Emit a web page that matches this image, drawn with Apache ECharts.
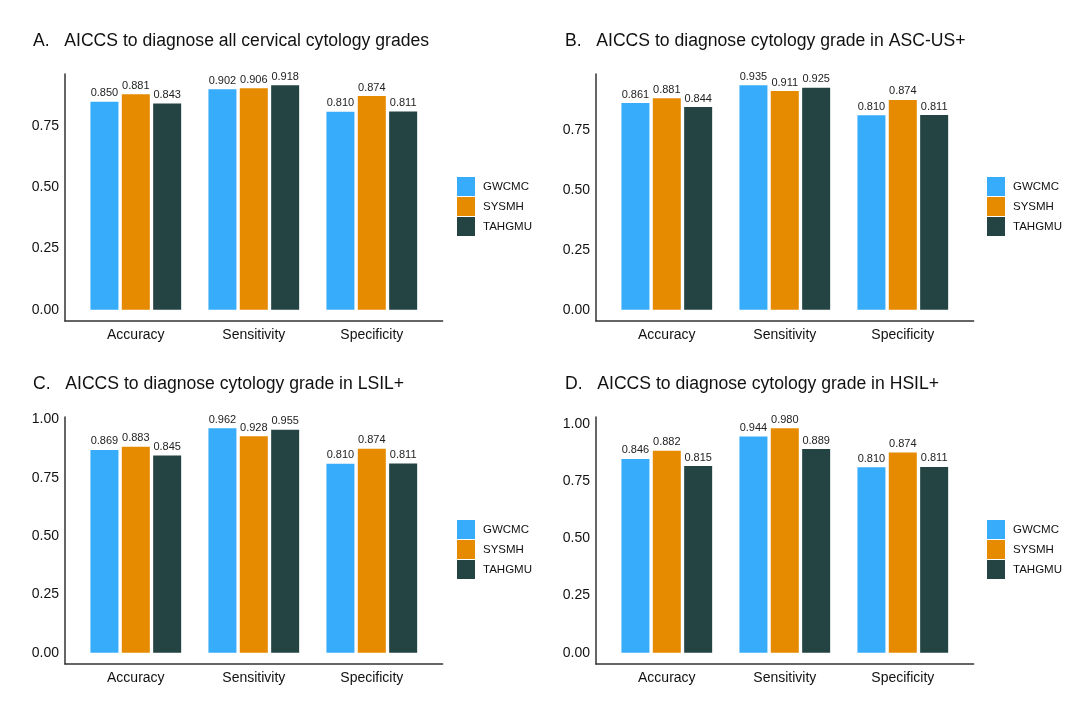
<!DOCTYPE html>
<html>
<head>
<meta charset="utf-8">
<script src="https://cdn.jsdelivr.net/npm/echarts@6/dist/echarts.min.js"></script>
<style>
  html, body { margin: 0; padding: 0; background: #fff; }
  #chart { width: 1080px; height: 717px; }
</style>
</head>
<body>
<div id="chart"></div>
<script>
// metrics on x, one bar per hospital
const categories = ['Accuracy', 'Sensitivity', 'Specificity']
const hospitals = ['GWCMC', 'SYSMH', 'TAHGMU']
const colors = ['#37acfb', '#e68a00', '#244343']

const titles = [
  'A.   AICCS to diagnose all cervical cytology grades',
  'B.   AICCS to diagnose cytology grade in ASC-US+',
  'C.   AICCS to diagnose cytology grade in LSIL+',
  'D.   AICCS to diagnose cytology grade in HSIL+',
]

// values per panel, [GWCMC, SYSMH, TAHGMU]
const panelA = [[0.850, 0.902, 0.810], [0.881, 0.906, 0.874], [0.843, 0.918, 0.811]]
const panelB = [[0.861, 0.935, 0.810], [0.881, 0.911, 0.874], [0.844, 0.925, 0.811]]
const panelC = [[0.869, 0.962, 0.810], [0.883, 0.928, 0.874], [0.845, 0.955, 0.811]]
const panelD = [[0.846, 0.944, 0.810], [0.882, 0.980, 0.874], [0.815, 0.889, 0.811]]

const ticksTop = [0, 0.25, 0.5, 0.75]
const ticksBottom = [0, 0.25, 0.5, 0.75, 1.0]

const panels = [panelA, panelB, panelC, panelD]
const tickSets = [ticksTop, ticksTop, ticksBottom, ticksBottom]

const font = "'Liberation Sans', Arial, sans-serif"
const unit = 118 // px per category
const layout = [
  { left: 65, top: 74, titleLeft: 33, titleTop: 32, legendLeft: 457, legendTop: 177 },
  { left: 596, top: 74, titleLeft: 565, titleTop: 32, legendLeft: 987, legendTop: 177 },
  { left: 65, top: 417, titleLeft: 33, titleTop: 375, legendLeft: 457, legendTop: 520 },
  { left: 596, top: 417, titleLeft: 565, titleTop: 375, legendLeft: 987, legendTop: 520 },
]
const plotH = 247

const chart = echarts.init(document.getElementById('chart'), null, { renderer: 'canvas' })

const title = [], grid = [], xAxis = [], yAxis = [], legend = [], series = []

panels.forEach((p, i) => {
  const L = layout[i]
  let top = 0
  p.forEach(arr => arr.forEach(v => { if (v > top) top = v }))
  // ggplot-like 5% expansion
  const yMin = -0.05 * top
  const yMax = 1.05 * top

  title.push({
    text: titles[i], left: L.titleLeft, top: L.titleTop, padding: 0,
    textStyle: { fontFamily: font, fontSize: 17.6, fontWeight: 'normal', color: '#111' },
  })

  // frame grid: axis lines + y labels
  grid.push({ left: L.left, top: L.top, width: unit * 3.2, height: plotH })
  // bar grid
  grid.push({ left: L.left + unit * 0.1, top: L.top, width: unit * 3, height: plotH })

  const g0 = i * 2, g1 = i * 2 + 1
  xAxis.push({
    type: 'value', gridIndex: g0, min: 0, max: 1,
    axisLine: { show: true, onZero: false, lineStyle: { color: '#333', width: 1.5 } },
    axisTick: { show: false }, axisLabel: { show: false }, splitLine: { show: false },
  })
  yAxis.push({
    type: 'value', gridIndex: g0, min: yMin, max: yMax,
    axisLine: { show: true, onZero: false, lineStyle: { color: '#333', width: 1.5 } },
    axisTick: { show: false },
    axisLabel: {
      show: true, customValues: tickSets[i], margin: 6,
      color: '#111', fontSize: 14, fontFamily: font,
      formatter: v => v.toFixed(2),
    },
    splitLine: { show: false },
  })
  xAxis.push({
    type: 'category', gridIndex: g1, data: categories,
    axisLine: { show: false }, axisTick: { show: false },
    axisLabel: { color: '#111', fontSize: 14, fontFamily: font, margin: 7 },
  })
  yAxis.push({
    type: 'value', gridIndex: g1, min: yMin, max: yMax, show: false,
    splitLine: { show: false },
  })

  legend.push({
    data: hospitals, left: L.legendLeft, top: L.legendTop, orient: 'vertical', padding: 0,
    icon: 'rect', itemWidth: 18, itemHeight: 19, itemGap: 1,
    textStyle: { fontFamily: font, fontSize: 11.5, color: '#111', padding: [0, 0, 0, 3] },
    selectedMode: false,
  })

  hospitals.forEach((h, k) => {
    series.push({
      name: h, type: 'bar',
      xAxisIndex: g1, yAxisIndex: g1,
      data: p[k],
      barWidth: 28, barGap: '12%',
      itemStyle: { color: colors[k] },
      label: {
        show: true, position: 'top', distance: 3,
        fontFamily: font, fontSize: 11, color: '#222',
        formatter: d => d.value.toFixed(3),
      },
    })
  })
})

chart.setOption({
  animation: false,
  backgroundColor: '#fff',
  title, grid, xAxis, yAxis, legend, series,
})
</script>
</body>
</html>
